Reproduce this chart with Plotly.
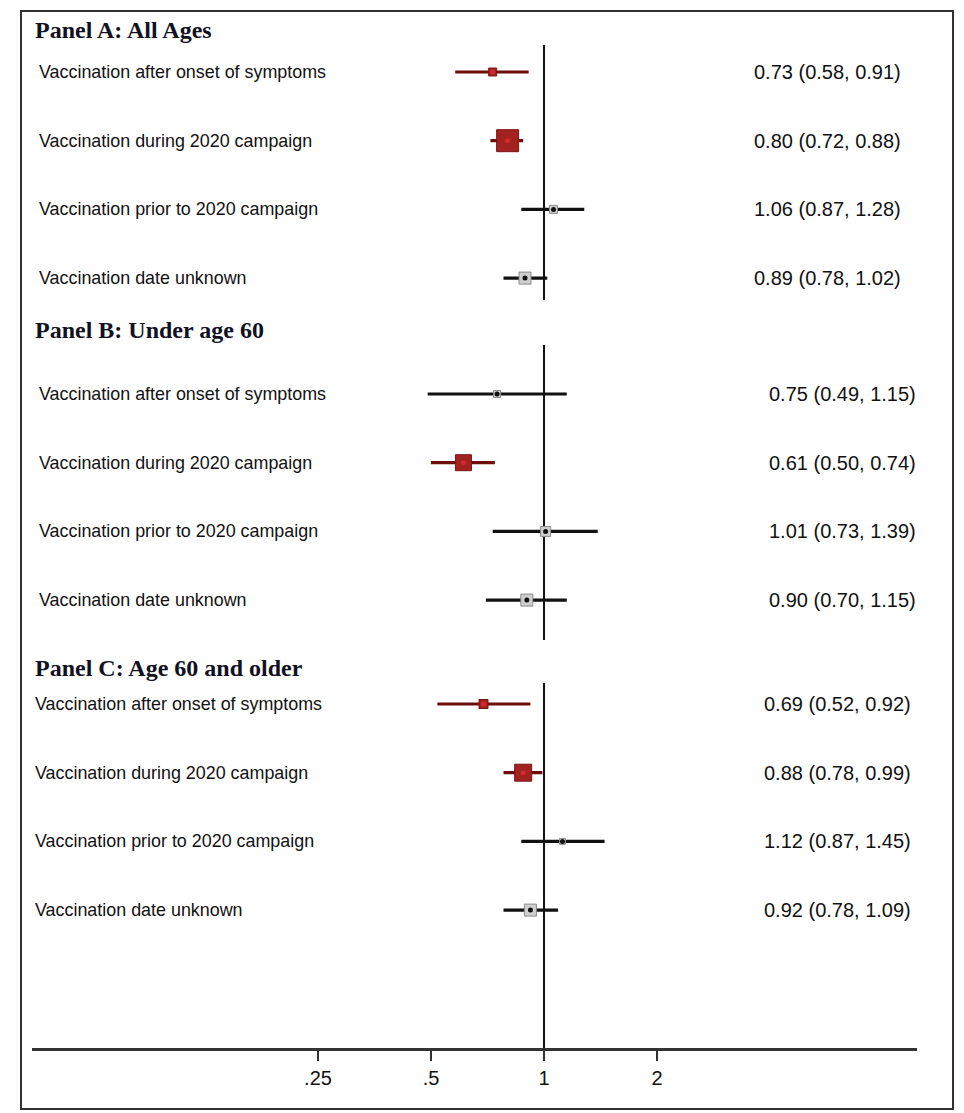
import plotly.graph_objects as go
import math

# ---------------- data ----------------
panel_titles = ["Panel A: All Ages", "Panel B: Under age 60", "Panel C: Age 60 and older"]
row_labels = [
    "Vaccination after onset of symptoms",
    "Vaccination during 2020 campaign",
    "Vaccination prior to 2020 campaign",
    "Vaccination date unknown",
]
hr_a = [0.73, 0.80, 1.06, 0.89]
lo_a = [0.58, 0.72, 0.87, 0.78]
hi_a = [0.91, 0.88, 1.28, 1.02]
hr_b = [0.75, 0.61, 1.01, 0.90]
lo_b = [0.49, 0.50, 0.73, 0.70]
hi_b = [1.15, 0.74, 1.39, 1.15]
hr_c = [0.69, 0.88, 1.12, 0.92]
lo_c = [0.52, 0.78, 0.87, 0.78]
hi_c = [0.92, 0.99, 1.45, 1.09]
significant_a = [True, True, False, False]
significant_b = [False, True, False, False]
significant_c = [True, True, False, False]
weight_a = [8, 22, 8, 12]
weight_b = [7, 16, 10, 12]
weight_c = [9, 17, 6, 12]
tick_vals = [0.25, 0.5, 1, 2]
tick_text = [".25", ".5", "1", "2"]

panels = [
    (hr_a, lo_a, hi_a, significant_a, weight_a),
    (hr_b, lo_b, hi_b, significant_b, weight_b),
    (hr_c, lo_c, hi_c, significant_c, weight_c),
]

# ---------------- layout geometry (page pixels) ----------------
W, H = 964, 1113
OFF = 8                               # default page body margin
PL, PR, PT, PB = 32, 917, 11, 1048   # plot area in page pixels
panel_title_y = [30, 330, 668]
first_row_gap = [42, 64, 36]
row_step = 68.7
label_left = [37, 37, 33]
value_right = [903, 918, 913]
refline_span = [(45, 300), (345, 640), (683, 1048)]

RED = "#a3211f"
RED_LINE = "#6e0b0b"
GRAY_FILL = "#cfcfcf"
GRAY_EDGE = "#8a8a8a"


def px(xp):
    return (xp - PL) / (PR - PL)


def py(yp):
    return (PB - yp) / (PB - PT)


fig = go.Figure()
annotations = []
shapes = []

for p, (hr, lo, hi, sig, wt) in enumerate(panels):
    ys = [panel_title_y[p] + first_row_gap[p] + i * row_step for i in range(len(hr))]
    shapes.append(dict(type="line", xref="x", yref="y", x0=1, x1=1,
                       y0=refline_span[p][0], y1=refline_span[p][1],
                       line=dict(color="#111111", width=2), layer="below"))
    annotations.append(dict(text="<b>" + panel_titles[p] + "</b>", xref="paper", yref="y",
                            x=px(33), y=panel_title_y[p], xanchor="left", yanchor="middle",
                            showarrow=False,
                            font=dict(family="Liberation Serif, Times New Roman, serif",
                                      size=24, color="#111122")))
    for i in range(len(hr)):
        y = ys[i]
        line_col = RED_LINE if sig[i] else "#111111"
        fig.add_trace(go.Scatter(x=[lo[i], hi[i]], y=[y, y], mode="lines",
                                 line=dict(color=line_col, width=3.2),
                                 showlegend=False, hoverinfo="skip"))
        fig.add_trace(go.Scatter(
            x=[hr[i]], y=[y], mode="markers", showlegend=False,
            marker=dict(symbol="square", size=wt[i],
                        color=RED if sig[i] else GRAY_FILL,
                        line=dict(color="#7a1515" if sig[i] else GRAY_EDGE, width=1))))
        fig.add_trace(go.Scatter(
            x=[hr[i]], y=[y], mode="markers", showlegend=False,
            marker=dict(symbol="circle", size=5,
                        color="#d02a2a" if sig[i] else "#111111")))
        annotations.append(dict(text=row_labels[i], xref="paper", yref="y",
                                x=px(label_left[p]), y=y, xanchor="left", yanchor="middle",
                                showarrow=False,
                                font=dict(family="Liberation Sans, Arial, sans-serif",
                                          size=17.9, color="#111111")))
        annotations.append(dict(text=f"{hr[i]:.2f} ({lo[i]:.2f}, {hi[i]:.2f})",
                                xref="paper", yref="y",
                                x=px(value_right[p]), y=y, xanchor="right", yanchor="middle",
                                showarrow=False,
                                font=dict(family="Liberation Sans, Arial, sans-serif",
                                          size=20, color="#111111")))

# outer frame
shapes.append(dict(type="rect", xref="paper", yref="paper",
                   x0=px(21), x1=px(953), y0=py(1109), y1=py(11),
                   line=dict(color="#333333", width=2), fillcolor="rgba(0,0,0,0)"))

xmin = math.log10(0.25) - (318 - PL) / 375.4
xmax = math.log10(0.25) + (PR - 318) / 375.4

FW, FH = W - OFF, H - OFF
fig.update_layout(
    width=FW, height=FH,
    margin=dict(l=PL - OFF, r=FW - (PR - OFF), t=PT - OFF, b=FH - (PB - OFF)),
    paper_bgcolor="white", plot_bgcolor="white",
    annotations=annotations, shapes=shapes,
    xaxis=dict(type="log", range=[xmin, xmax], tickvals=tick_vals, ticktext=tick_text,
               showgrid=False, zeroline=False, showline=True, linecolor="#333333",
               linewidth=2.5, ticks="outside", ticklen=10, tickwidth=1.5,
               tickcolor="#333333",
               tickfont=dict(family="Liberation Sans Narrow, Arial Narrow, Liberation Sans, Arial",
                             size=20, color="#111111")),
    yaxis=dict(range=[PB, PT], visible=False, showgrid=False, zeroline=False),
)

fig.write_html("out.html")
